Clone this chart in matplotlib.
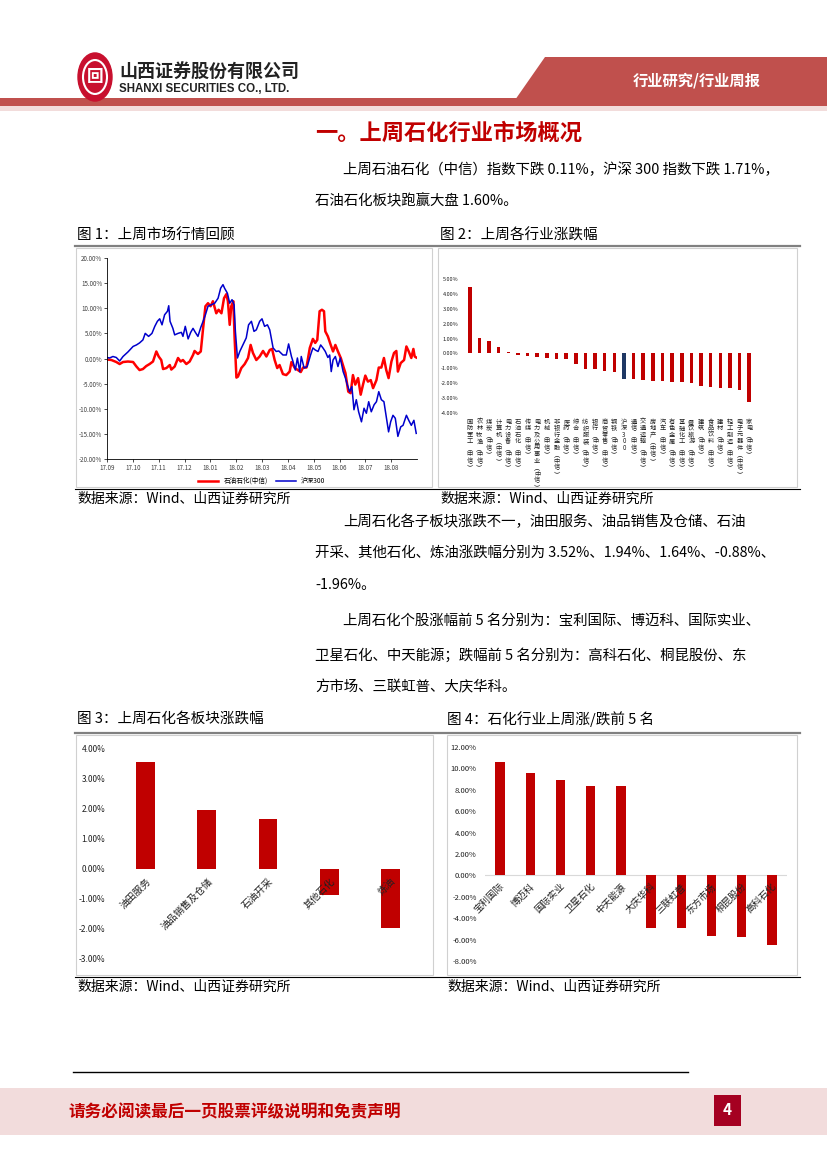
import matplotlib
matplotlib.use("Agg")
import matplotlib.pyplot as plt
from matplotlib.patches import Rectangle, Polygon, Circle
from matplotlib.lines import Line2D

plt.rcParams['font.family'] = ['Noto Sans CJK SC', 'DejaVu Sans']
plt.rcParams['axes.unicode_minus'] = False

# ---- data ----
month_labels = ['17.09', '17.10', '17.11', '17.12', '18.01', '18.02', '18.03',
                '18.04', '18.05', '18.06', '18.07', '18.08']
# time in months since 2017-09
petro_t = [0.00, 0.17, 0.36, 0.49, 0.62, 0.81, 1.01, 1.14, 1.26, 1.39,
           1.52, 1.65, 1.78, 1.91, 2.00, 2.10, 2.17, 2.30, 2.43, 2.49,
           2.62, 2.75, 2.85, 2.94, 3.07, 3.20, 3.33, 3.39, 3.52, 3.63,
           3.72, 3.81, 3.91, 4.01, 4.10, 4.23, 4.32, 4.43, 4.53, 4.62,
           4.68, 4.75, 4.81, 4.89, 4.94, 5.01, 5.07, 5.20, 5.33, 5.46,
           5.56, 5.65, 5.78, 5.91, 6.04, 6.17, 6.30, 6.39, 6.49, 6.59,
           6.68, 6.81, 6.94, 7.07, 7.14, 7.27, 7.39, 7.50, 7.59, 7.72,
           7.85, 7.97, 8.06, 8.14, 8.23, 8.32, 8.40, 8.45, 8.55, 8.66,
           8.75, 8.84, 8.94, 9.05, 9.15, 9.23, 9.34, 9.43, 9.52, 9.61,
           9.72, 9.82, 9.91, 10.00, 10.10, 10.21, 10.30, 10.43, 10.52, 10.62,
           10.72, 10.81, 10.90, 11.01, 11.11, 11.20, 11.26, 11.37, 11.50, 11.59,
           11.68, 11.78, 11.86, 11.91, 11.97]
petro_v = [-0.2, -0.3, -0.7, -1.1, -0.7, -0.6, -0.7, -1.6, -2.3, -2.1,
           -1.5, -1.1, -0.6, 1.4, 0.4, -0.3, -2.1, -1.9, -1.3, -2.2,
           -1.6, 0.1, -0.6, -0.3, -1.1, -0.6, 0.7, 1.5, 0.9, 1.4,
           6.0, 10.4, 11.0, 10.4, 11.4, 9.0, 9.7, 9.0, 12.0, 12.8,
           11.4, 6.7, 10.4, 11.4, 4.1, -3.8, -3.6, -1.9, -1.1, 0.1,
           2.7, 1.1, -0.3, 0.4, 1.5, 0.4, 1.7, 1.9, -0.3, -1.9,
           -1.3, -3.1, -3.3, -2.6, -0.7, -1.9, -2.3, -2.7, -1.8, -1.8,
           2.1, 3.9, 3.1, 3.7, 9.4, 9.7, 9.4, 5.4, 4.4, 2.7,
           1.4, 2.7, 1.4, 0.1, -1.6, -2.9, -6.6, -6.9, -3.3, -5.2,
           -3.9, -7.2, -5.2, -3.4, -4.6, -4.3, -5.9, -4.3, -1.8, -1.8,
           0.1, -2.3, -3.9, -0.6, 1.1, 1.5, -2.6, -0.9, -0.3, 2.4,
           1.4, 0.1, 1.9, 0.4, 0.2]
hs300_t = [0.00, 0.10, 0.23, 0.36, 0.49, 0.62, 0.81, 1.01, 1.14, 1.26,
           1.39, 1.48, 1.61, 1.74, 1.85, 1.95, 2.04, 2.13, 2.23, 2.34,
           2.39, 2.44, 2.55, 2.62, 2.75, 2.88, 2.94, 3.03, 3.14, 3.24,
           3.33, 3.42, 3.52, 3.63, 3.72, 3.81, 3.91, 4.04, 4.17, 4.30,
           4.40, 4.49, 4.55, 4.66, 4.75, 4.84, 4.92, 4.97, 5.05, 5.14,
           5.26, 5.39, 5.48, 5.59, 5.69, 5.78, 5.91, 6.00, 6.10, 6.21,
           6.30, 6.43, 6.55, 6.65, 6.81, 6.94, 7.03, 7.14, 7.20, 7.29,
           7.37, 7.46, 7.52, 7.63, 7.75, 7.88, 7.97, 8.06, 8.17, 8.27,
           8.36, 8.45, 8.55, 8.62, 8.68, 8.75, 8.84, 8.94, 9.03, 9.14,
           9.23, 9.30, 9.39, 9.48, 9.56, 9.65, 9.74, 9.85, 9.95, 10.04,
           10.13, 10.23, 10.34, 10.43, 10.52, 10.62, 10.72, 10.81, 10.90, 10.98,
           11.07, 11.16, 11.26, 11.37, 11.46, 11.59, 11.68, 11.78, 11.88, 11.97]
hs300_v = [0.2, 0.1, 0.4, 0.2, -0.5, 0.4, 1.3, 2.4, 2.7, 3.1,
           3.7, 5.0, 4.4, 5.0, 6.4, 7.4, 7.9, 6.7, 8.7, 9.4,
           10.5, 7.4, 6.0, 4.7, 5.0, 5.2, 4.4, 6.4, 3.9, 5.2,
           6.0, 5.2, 4.4, 6.2, 7.4, 8.7, 10.4, 10.7, 11.0, 12.0,
           14.0, 14.7, 14.0, 13.0, 11.0, 11.7, 10.7, 5.4, 0.1, 1.4,
           2.7, 4.1, 6.7, 7.4, 5.4, 5.7, 7.4, 7.9, 6.4, 6.7,
           5.7, 2.1, 1.4, 1.5, 0.7, 0.7, 2.9, 0.4, -0.6, -2.3,
           0.1, -2.6, 0.4, -1.9, -1.6, 0.7, 2.1, 1.7, 1.4, 2.7,
           2.1, 1.4, 0.2, 0.7, -2.6, -0.3, 0.4, -1.6, 0.1, -2.6,
           -3.9, -5.2, -6.6, -5.6, -10.2, -8.2, -10.6, -12.6, -9.9, -10.9,
           -8.6, -10.6, -9.2, -8.6, -6.6, -8.2, -8.6, -11.6, -14.6, -12.6,
           -11.3, -11.9, -15.5, -13.6, -13.3, -11.3, -12.3, -13.3, -12.3, -14.9]

industries = ['国防军工(中信)', '农林牧渔(中信)', '煤炭(中信)', '计算机(中信)', '电力设备(中信)',
              '石油石化(中信)', '传媒(中信)', '电力及公用事业(中信)', '机械(中信)', '非银行金融(中信)',
              '医药(中信)', '综合(中信)', '纺织服装(中信)', '银行(中信)', '商贸零售(中信)',
              '钢铁(中信)', '沪深300', '通信(中信)', '交通运输(中信)', '房地产(中信)',
              '汽车(中信)', '有色金属(中信)', '基础化工(中信)', '餐饮旅游(中信)', '建筑(中信)',
              '食品饮料(中信)', '建材(中信)', '轻工制造(中信)', '电子元器件(中信)', '家电(中信)']
industry_chg = [4.44, 1.05, 0.85, 0.45, 0.07, -0.11, -0.18, -0.27, -0.33, -0.40,
                -0.40, -0.71, -1.07, -1.07, -1.20, -1.27, -1.71, -1.74, -1.81, -1.88,
                -1.88, -1.94, -1.94, -2.00, -2.20, -2.28, -2.34, -2.34, -2.48, -3.26]

sectors = ['油田服务', '油品销售及仓储', '石油开采', '其他石化', '炼油']
sector_chg = [3.52, 1.94, 1.64, -0.88, -1.96]

stocks = ['宝利国际', '博迈科', '国际实业', '卫星石化', '中天能源',
          '大庆华科', '三联虹普', '东方市场', '桐昆股份', '高科石化']
stock_chg = [10.56, 9.56, 8.94, 8.38, 8.38, -4.90, -4.90, -5.66, -5.75, -6.53]

# ---- page layout helpers (pixel coords, origin top-left) ----
W, H = 827, 1169
fig = plt.figure(figsize=(8.27, 11.69), dpi=100)


def box(l, t, r, b):
    return [l / W, 1 - b / H, (r - l) / W, (b - t) / H]


def txt(x, y, s, **kw):
    kw.setdefault('va', 'center')
    fig.text(x / W, 1 - y / H, s, **kw)


def hline(x1, x2, y, **kw):
    fig.add_artist(Line2D([x1 / W, x2 / W], [1 - y / H, 1 - y / H], **kw))


def rect(l, t, r, b, **kw):
    fig.add_artist(Rectangle((l / W, 1 - b / H), (r - l) / W, (b - t) / H,
                             transform=fig.transFigure, **kw))


RED = '#c00000'
HEAD = '#c0504d'
BODY = 10.4

# header
fig.add_artist(Polygon([(545 / W, 1 - 57 / H), (1, 1 - 57 / H), (1, 1 - 100 / H), (515 / W, 1 - 100 / H)],
                       closed=True, transform=fig.transFigure, color=HEAD, lw=0))
rect(0, 98, W, 106, color=HEAD, lw=0)
rect(0, 106, W, 111, color='#f2dcdb', lw=0)
txt(697, 81, '行业研究/行业周报', color='white', fontsize=11, fontweight='bold', ha='center')
fig.add_artist(Circle((95 / W, 1 - 77 / H), 17 / W, transform=fig.transFigure, color='#c8102e'))
fig.add_artist(Circle((95 / W, 1 - 77 / H), 12 / W, transform=fig.transFigure, fill=False,
                      ec='white', lw=1.5))
txt(95, 77, '回', color='white', fontsize=12, fontweight='bold', ha='center')
txt(119, 72, '山西证券股份有限公司', fontsize=13, fontweight='bold', color='#222222')
txt(119, 89, 'SHANXI SECURITIES CO., LTD.', fontsize=8.3, fontweight='bold',
    family='Liberation Sans', color='#222222')

# section title and paragraphs
txt(315, 133, '一。上周石化行业市场概况', fontsize=16, fontweight='bold', color=RED)
txt(343, 170, '上周石油石化（中信）指数下跌 0.11%，沪深 300 指数下跌 1.71%，', fontsize=BODY)
txt(315, 201, '石油石化板块跑赢大盘 1.60%。', fontsize=BODY)
txt(77, 236, '图 1：上周市场行情回顾', fontsize=10.5)
txt(440, 236, '图 2：上周各行业涨跌幅', fontsize=10.5)

txt(343, 522, '上周石化各子板块涨跌不一，油田服务、油品销售及仓储、石油', fontsize=BODY)
txt(315, 553, '开采、其他石化、炼油涨跌幅分别为 3.52%、1.94%、1.64%、-0.88%、', fontsize=BODY)
txt(315, 585, '-1.96%。', fontsize=BODY)
txt(343, 621, '上周石化个股涨幅前 5 名分别为：宝利国际、博迈科、国际实业、', fontsize=BODY)
txt(315, 655, '卫星石化、中天能源；跌幅前 5 名分别为：高科石化、桐昆股份、东', fontsize=BODY)
txt(315, 687, '方市场、三联虹普、大庆华科。', fontsize=BODY)
txt(77, 719, '图 3：上周石化各板块涨跌幅', fontsize=10.5)
txt(447, 719, '图 4：石化行业上周涨/跌前 5 名', fontsize=10.5)

# chart frames and rules
for (l, t, r, b) in [(76, 248, 432, 487), (438, 248, 797, 487),
                     (76, 735, 433, 975), (447, 735, 797, 975)]:
    rect(l, t, r, b, fill=False, ec='#d0d0d0', lw=0.8)
hline(75, 800, 246, color='#808080', lw=1.6)
hline(75, 800, 489, color='black', lw=0.8)
hline(75, 800, 733, color='#808080', lw=1.6)
hline(75, 800, 977, color='black', lw=0.8)
src = '数据来源：Wind、山西证券研究所'
txt(77, 499, src, fontsize=10)
txt(440, 499, src, fontsize=10)
txt(77, 987, src, fontsize=10)
txt(447, 987, src, fontsize=10)

# ---- Figure 1: line chart ----
ax1 = fig.add_axes(box(107, 258, 417, 459))
ax1.plot(petro_t, petro_v, color='#ff0000', lw=1.8, label='石油石化(中信)')
ax1.plot(hs300_t, hs300_v, color='#0000cc', lw=1.1, label='沪深300')
ax1.set_xlim(0, 12)
ax1.set_ylim(-20, 20)
ax1.set_yticks(range(-20, 21, 5))
ax1.set_yticklabels([f'{v:.2f}%' for v in range(-20, 21, 5)])
ax1.set_xticks(range(12))
ax1.set_xticklabels(month_labels)
ax1.tick_params(labelsize=4.5, labelcolor='#404040', length=2, width=0.5, pad=1.5)
for s in ('top', 'right'):
    ax1.spines[s].set_visible(False)
for s in ('left', 'bottom'):
    ax1.spines[s].set_linewidth(0.6)
ax1.legend(loc='upper center', bbox_to_anchor=(0.5, -0.06), ncol=2, frameon=False,
           fontsize=4.8, handlelength=3, columnspacing=1.2)

# ---- Figure 2: industry bars ----
ax2 = fig.add_axes(box(464, 279, 755, 413))
colors2 = ['#1f3864' if n == '沪深300' else RED for n in industries]
ax2.bar(range(len(industries)), industry_chg, width=0.36, color=colors2)
ax2.set_xlim(-0.6, len(industries) - 0.4)
ax2.set_ylim(-4, 5)
ax2.set_yticks(range(-4, 6))
ax2.set_yticklabels([f'{v:.2f}%' for v in range(-4, 6)])
ax2.tick_params(axis='y', labelsize=4, length=0, pad=4, labelcolor='#202020')
ax2.set_xticks([])
for s in ax2.spines.values():
    s.set_visible(False)
# vertical (stacked) category labels, one character at a time
for i, name in enumerate(industries):
    vert = name.replace('(', '︵').replace(')', '︶')
    for k, ch in enumerate(vert):
        ax2.annotate(ch, xy=(i, -4), xytext=(0, -3.5 - 4.7 * k), textcoords='offset points',
                     ha='center', va='top', fontsize=4.5, color='#202020',
                     annotation_clip=False)

# ---- Figure 3: sector bars ----
ax3 = fig.add_axes(box(115, 748, 421, 959))
ax3.bar(range(len(sectors)), sector_chg, width=0.31, color=RED)
ax3.set_xlim(-0.5, len(sectors) - 0.5)
ax3.set_ylim(-3, 4)
ax3.set_yticks(range(-3, 5))
ax3.set_yticklabels([f'{v:.2f}%' for v in range(-3, 5)])
ax3.tick_params(axis='y', labelsize=6, length=0, pad=7, labelcolor='#202020')
ax3.set_xticks([])
for s in ax3.spines.values():
    s.set_visible(False)
for i, name in enumerate(sectors):
    ax3.text(i + 0.06, -0.36, name, rotation=45, ha='right', va='center',
             rotation_mode='anchor', fontsize=7, color='#202020')

# ---- Figure 4: top/bottom stocks ----
ax4 = fig.add_axes(box(485, 747, 787, 961))
ax4.axhline(0, color='#d9d9d9', lw=0.8, zorder=0)
ax4.bar(range(len(stocks)), stock_chg, width=0.31, color=RED)
ax4.set_xlim(-0.5, len(stocks) - 0.5)
ax4.set_ylim(-8, 12)
ax4.set_yticks(range(-8, 13, 2))
ax4.set_yticklabels([f'{v:.2f}%' for v in range(-8, 13, 2)])
ax4.tick_params(axis='y', labelsize=5.5, length=0, pad=6, labelcolor='#202020')
ax4.set_xticks([])
for s in ax4.spines.values():
    s.set_visible(False)
for i, name in enumerate(stocks):
    ax4.text(i + 0.1, -0.9, name, rotation=45, ha='right', va='center',
             rotation_mode='anchor', fontsize=6.8, color='#202020', zorder=5)

# footer
hline(73, 688, 1072, color='black', lw=1)
rect(0, 1088, W, 1135, color='#f2dcdc', lw=0)
txt(68, 1112, '请务必阅读最后一页股票评级说明和免责声明', fontsize=12, fontweight='bold', color=RED)
rect(714, 1095, 741, 1126, color='#a50021', lw=0)
txt(727.5, 1110, '4', fontsize=11, fontweight='bold', color='white', ha='center')

fig.savefig('out.png', dpi=100)
